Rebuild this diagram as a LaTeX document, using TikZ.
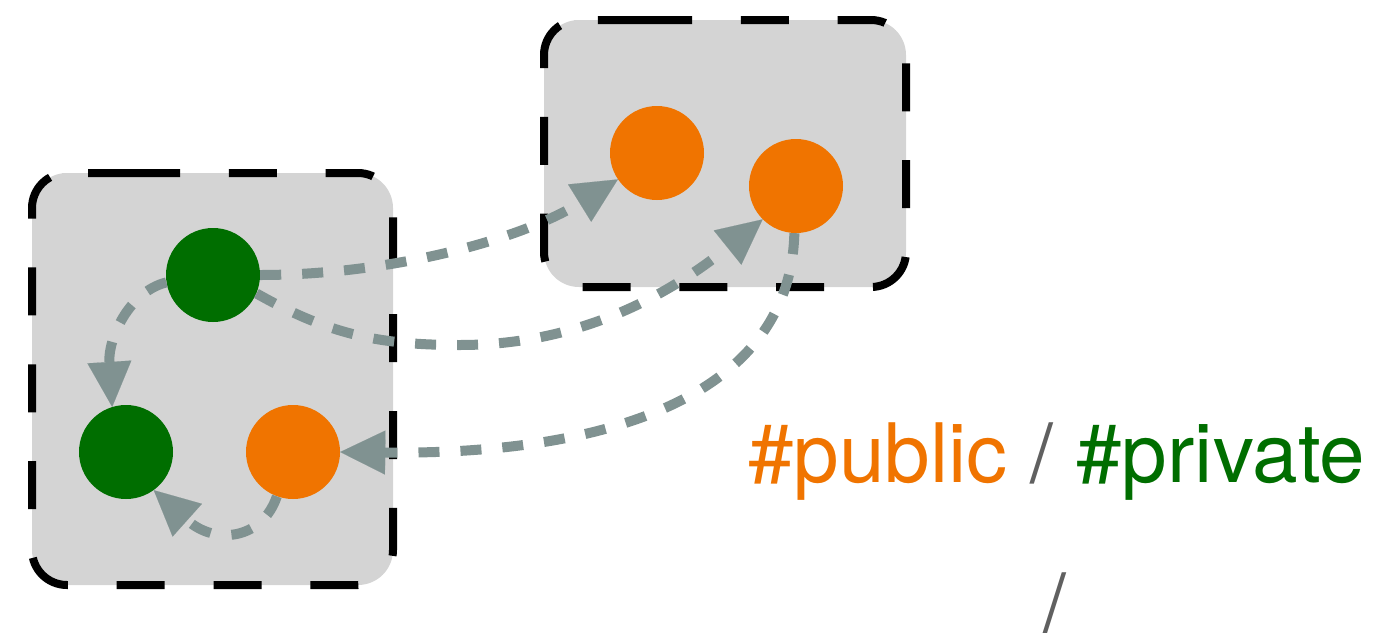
\documentclass[tikz,border=0pt]{standalone}
\usepackage{fontspec}
\setmainfont{TeX Gyre Heros}
\usetikzlibrary{arrows.meta}
\definecolor{boxgray}{HTML}{D4D4D4}
\definecolor{dotgreen}{HTML}{006E00}
\definecolor{dotorange}{HTML}{F07400}
\definecolor{arrgray}{HTML}{809291}
\definecolor{slashgray}{HTML}{606060}
\begin{document}
\begin{tikzpicture}[x=1pt,y=-1pt,
  group/.style={fill=boxgray, draw=black, line width=8pt, dash pattern=on 48pt off 48.8pt, rounded corners=35pt},
  dot/.style={circle, minimum size=94pt, inner sep=0pt, draw=none},
  priv/.style={dot, fill=dotgreen},
  pub/.style={dot, fill=dotorange},
  link/.style={draw=arrgray, line width=10pt, dash pattern=on 21pt off 21pt,
    -{Triangle[length=45pt,width=44pt,line width=0.1pt]}},
  lbl/.style={anchor=base west, inner sep=0pt, font=\fontsize{82}{98}\selectfont}]
\useasboundingbox (0,0) rectangle (1384,632);
\draw[group] (97,173) -- (393,173) -- (393,585) -- (32,585) -- (32,173) -- cycle;
\draw[group] (609,20) -- (906,20) -- (906,287) -- (544,287) -- (544,20) -- cycle;
\node[priv] (g1) at (213,275) {};
\node[priv] (g2) at (126,452) {};
\node[pub] (o1) at (293,452) {};
\node[pub] (o2) at (657,153) {};
\node[pub] (o3) at (796,186) {};
\draw[link] (g1.189) .. controls (128,292) and (108,340) .. (g2.107);
\draw[link] (g1.east) .. controls (390,275) and (520,240) .. (o2.214);
\draw[link] (g1.337) .. controls (330,335) and (380,345) .. (460,345) .. controls (560,345) and (650,310) .. (o3.225);
\draw[link] (o3.268) .. controls (790,400) and (600,455) .. (o1.east);
\draw[link] (o1.250) .. controls (262,540) and (215,545) .. (g2.306);
\node[lbl] (tags) at (748,482) {\textcolor{dotorange}{\#public} \textcolor{slashgray}{/} \textcolor{dotgreen}{\#private}};
\node[lbl, text=slashgray] (sep) at (1043,632) {/};
\end{tikzpicture}
\end{document}
